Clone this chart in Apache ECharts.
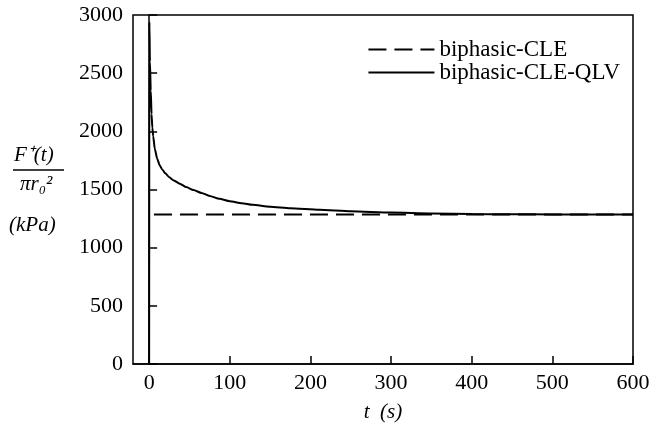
<!DOCTYPE html>
<html>
<head>
<meta charset="utf-8">
<script src="https://cdn.jsdelivr.net/npm/echarts@6/dist/echarts.min.js"></script>
<style>
  html, body { margin: 0; padding: 0; background: #fff; }
  #chart { width: 665px; height: 428px; }
</style>
</head>
<body>
<div id="chart"></div>
<script>
// time (s) and normalised force (kPa)
const qlvTime = [0, 0.3, 1, 2, 3, 4, 5, 7, 10, 13, 16, 20, 25, 30, 38, 46, 55, 65, 75, 87, 100, 115, 128, 150, 175, 211, 250, 300, 350, 400, 450, 500, 550, 600]
const qlvForce = [0, 2940, 2600, 2350, 2150, 2030, 1960, 1850, 1765, 1710, 1675, 1640, 1605, 1580, 1550, 1521, 1495, 1470, 1445, 1420, 1400, 1382, 1368, 1352, 1338, 1325, 1312, 1302, 1294, 1289, 1287, 1286, 1285, 1285]
const cleTime = [6, 600]
const cleForce = [1285, 1285]
const xTicks = [0, 100, 200, 300, 400, 500, 600]

const serif = 'Liberation Serif'

const toPairs = (xs, ys) => xs.map((x, i) => [x, ys[i]])

const chart = echarts.init(document.getElementById('chart'))

const option = {
  animation: false,
  backgroundColor: '#fff',
  grid: {
    left: 133,
    right: 32,
    top: 15,
    bottom: 61,
    show: true,
    borderColor: '#000',
    borderWidth: 1.5
  },
  legend: {
    right: 40,
    top: 33,
    orient: 'vertical',
    itemWidth: 66,
    itemHeight: 4,
    itemGap: 0,
    textStyle: { fontFamily: serif, fontSize: 23, color: '#000' },
    itemStyle: { opacity: 0 },
    data: ['biphasic-CLE', 'biphasic-CLE-QLV']
  },
  xAxis: {
    type: 'value',
    min: -20,
    max: 600,
    name: 't  (s)',
    nameLocation: 'middle',
    nameGap: 38,
    nameTextStyle: { fontFamily: serif, fontSize: 21, fontStyle: 'italic', color: '#000' },
    axisLine: { lineStyle: { color: '#000', width: 1.5 } },
    axisTick: { inside: true, length: 8, customValues: xTicks, lineStyle: { color: '#000', width: 1.5 } },
    axisLabel: { customValues: xTicks, fontFamily: serif, fontSize: 22, color: '#000', margin: 8 },
    splitLine: { show: false }
  },
  yAxis: {
    type: 'value',
    min: 0,
    max: 3000,
    interval: 500,
    axisLine: { lineStyle: { color: '#000', width: 1.5 } },
    axisTick: { inside: true, length: 8, lineStyle: { color: '#000', width: 1.5 } },
    axisLabel: { fontFamily: serif, fontSize: 22, color: '#000', margin: 10, formatter: (v) => String(v) },
    splitLine: { show: false }
  },
  graphic: [
    { type: 'text', left: 14, top: 145, style: { text: 'F⁺(t)', font: 'italic 21px "Liberation Serif"', fill: '#000' } },
    { type: 'line', shape: { x1: 13, y1: 170, x2: 64, y2: 170 }, style: { stroke: '#000', lineWidth: 1.5 } },
    { type: 'text', left: 20, top: 174, style: { text: 'πr₀²', font: 'italic 21px "Liberation Serif"', fill: '#000' } },
    { type: 'text', left: 9, top: 215, style: { text: '(kPa)', font: 'italic 21px "Liberation Serif"', fill: '#000' } }
  ],
  series: [
    {
      name: 'biphasic-CLE',
      type: 'line',
      symbol: 'none',
      data: toPairs(cleTime, cleForce),
      lineStyle: { color: '#000', width: 1.8, type: [18, 8] },
      itemStyle: { color: '#000' }
    },
    {
      name: 'biphasic-CLE-QLV',
      type: 'line',
      symbol: 'none',
      smooth: 0.2,
      smoothMonotone: 'x',
      data: toPairs(qlvTime, qlvForce),
      lineStyle: { color: '#000', width: 2 },
      itemStyle: { color: '#000' }
    }
  ]
}

chart.setOption(option)
</script>
</body>
</html>
